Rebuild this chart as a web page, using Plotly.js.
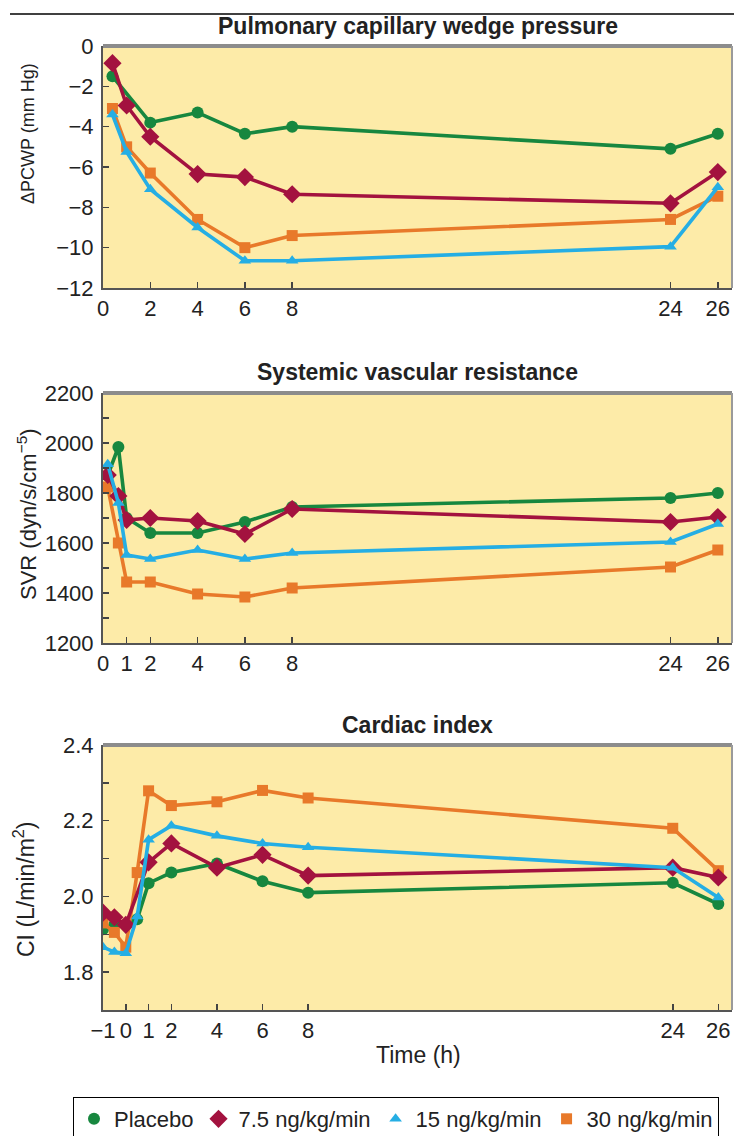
<!DOCTYPE html>
<html>
<head>
<meta charset="utf-8">
<script src="https://cdn.plot.ly/plotly-3.0.1.min.js"></script>
<style>html,body{margin:0;padding:0;background:#fff;}#chart{width:734px;height:1136px;}</style>
</head>
<body>
<div id="chart"></div>
<script>
// ---- Data ----
const seriesNames = ["Placebo", "7.5 ng/kg/min", "15 ng/kg/min", "30 ng/kg/min"];

// Pulmonary capillary wedge pressure (ΔPCWP, mm Hg)
const pcwpTime = [0.4, 1, 2, 4, 6, 8, 24, 26];
const pcwpPlacebo = [-1.5, null, -3.8, -3.3, -4.35, -4.0, -5.1, -4.35];
const pcwp7_5 = [-0.85, -2.95, -4.5, -6.35, -6.5, -7.35, -7.8, -6.25];
const pcwp15 = [-3.4, -5.25, -7.1, -9.0, -10.65, -10.65, -9.95, -7.0];
const pcwp30 = [-3.1, -5.0, -6.3, -8.6, -10.0, -9.4, -8.6, -7.45];

// Systemic vascular resistance (dyn/s/cm^-5)
const svrTime = [0.2, 0.65, 1, 2, 4, 6, 8, 24, 26];
const svrPlacebo = [1870, 1984, 1700, 1640, 1640, 1684, 1744, 1780, 1800];
const svr7_5 = [1872, 1788, 1692, 1700, 1688, 1636, 1736, 1684, 1704];
const svr15 = [1915, 1760, 1552, 1536, 1572, 1536, 1560, 1604, 1676];
const svr30 = [1824, 1600, 1444, 1444, 1396, 1384, 1420, 1504, 1572];

// Cardiac index (L/min/m^2)
const ciTime = [-1, -0.5, 0, 0.5, 1, 2, 4, 6, 8, 24, 26];
const ciPlacebo = [1.913, 1.925, 1.925, 1.94, 2.035, 2.063, 2.087, 2.04, 2.01, 2.036, 1.98];
const ci7_5 = [1.957, 1.945, 1.925, null, 2.09, 2.14, 2.076, 2.11, 2.055, 2.076, 2.05];
const ci15 = [1.866, 1.853, 1.85, 1.947, 2.15, 2.187, 2.16, 2.14, 2.13, 2.076, 1.997];
const ci30 = [1.93, 1.905, 1.866, 2.063, 2.279, 2.24, 2.25, 2.28, 2.26, 2.18, 2.068];

// Tick labels
const pcwpTicksX = [0, 2, 4, 6, 8, 24, 26];
const svrTicksX = [0, 1, 2, 4, 6, 8, 24, 26];
const ciTicksX = [-1, 0, 1, 2, 4, 6, 8, 24, 26];
const pcwpTicksY = [0, -2, -4, -6, -8, -10, -12];
const svrTicksY = [1200, 1400, 1600, 1800, 2000, 2200];
const ciTicksY = [1.8, 2.0, 2.2, 2.4];

// ---- Styles ----
const colors = ["#17873f", "#a3123f", "#25aee4", "#e8792a"];
const symbols = ["circle", "diamond", "triangle-up", "square"];
const sizes = [12, 14, 11, 11];
const drawOrder = [0, 3, 1, 2];
const FONT = "Liberation Sans, Arial, Helvetica, sans-serif";

const panels = [
  {t: pcwpTime, ys: [pcwpPlacebo, pcwp7_5, pcwp15, pcwp30], xa: "x", ya: "y"},
  {t: svrTime, ys: [svrPlacebo, svr7_5, svr15, svr30], xa: "x2", ya: "y2"},
  {t: ciTime, ys: [ciPlacebo, ci7_5, ci15, ci30], xa: "x3", ya: "y3"}
];

const traces = [];
panels.forEach(p => {
  drawOrder.forEach(i => {
    traces.push({
      x: p.t, y: p.ys[i], xaxis: p.xa, yaxis: p.ya,
      type: "scatter", mode: "lines+markers", connectgaps: true,
      name: seriesNames[i], showlegend: false,
      line: {color: colors[i], width: 3.6},
      marker: {color: colors[i], symbol: symbols[i], size: sizes[i]}
    });
  });
});
// legend entries (marker only)
[0, 1, 2, 3].forEach(i => {
  traces.push({
    x: [null], y: [null], xaxis: "x3", yaxis: "y3",
    type: "scatter", mode: "markers", name: seriesNames[i], showlegend: true,
    marker: {color: colors[i], symbol: symbols[i], size: sizes[i]}
  });
});

const L = 103, R = 2, T = 46, B = 126, W = 734, H = 1136;
const pw = W - L - R, ph = H - T - B;
const py = y => (H - B - y) / ph;   // pixel y -> paper
const px = x => (x - L) / pw;        // pixel x -> paper

function xAxis(ticks, range, anchor) {
  return {
    range: range, tickvals: ticks, ticktext: ticks.map(v => v < 0 ? "\u2212" + Math.abs(v) : String(v)), anchor: anchor,
    ticks: "inside", ticklen: 6, tickwidth: 1.5, tickcolor: "#444",
    showline: true, linecolor: "#555", linewidth: 2, showgrid: false, zeroline: false,
    tickfont: {family: FONT, size: 22, color: "#222"}, ticklabelstandoff: 0
  };
}
function yAxis(ticks, range, dom, anchor, fmt, minorDt) {
  const a = {
    range: range, tickvals: ticks, domain: dom, anchor: anchor,
    ticks: "inside", ticklen: 6, tickwidth: 1.5, tickcolor: "#444",
    showline: true, linecolor: "#555", linewidth: 2, showgrid: false, zeroline: false,
    tickfont: {family: FONT, size: 22, color: "#222"}, ticklabelstandoff: 3
  };
  if (fmt) a.tickformat = fmt;
  if (minorDt) a.minor = {dtick: minorDt, ticks: "inside", ticklen: 6, tickwidth: 1.5, tickcolor: "#444", showgrid: false};
  return a;
}

const d1 = [py(288), py(46)], d2 = [py(643), py(393)], d3 = [0, py(745)];

function ann(text, x, y, size, angle) {
  return {text: text, x: px(x), y: py(y), xref: "paper", yref: "paper", xanchor: "center", yanchor: "middle",
    showarrow: false, textangle: angle || 0, font: {family: FONT, size: size, color: "#222"}};
}

const layout = {
  width: W, height: H,
  margin: {l: L, r: R, t: T, b: B, autoexpand: false},
  paper_bgcolor: "#ffffff", plot_bgcolor: "#fdeba8",
  font: {family: FONT, color: "#222"},
  xaxis: xAxis(pcwpTicksX, [0, 26.6], "y"),
  yaxis: yAxis(pcwpTicksY, [-12, 0], d1, "x", null, null),
  xaxis2: xAxis(svrTicksX, [0, 26.6], "y2"),
  yaxis2: yAxis(svrTicksY, [1200, 2200], d2, "x2", null, 100),
  xaxis3: xAxis(ciTicksX, [-1, 26.6], "y3"),
  yaxis3: yAxis(ciTicksY, [1.7, 2.4], d3, "x3", ".1f", 0.1),
  showlegend: true,
  legend: {
    orientation: "h", x: px(73), y: py(1097), xanchor: "left", yanchor: "top",
    bordercolor: "#000", borderwidth: 1, bgcolor: "#fff",
    font: {family: FONT, size: 22, color: "#222"}, itemclick: false
  },
  shapes: [
    {type: "line", xref: "paper", yref: "paper", x0: px(10), x1: 1.01, y0: py(14), y1: py(14), line: {color: "#000", width: 1.5}}
  ],
  annotations: [
    ann("<b>Pulmonary capillary wedge pressure</b>", 418, 26, 23),
    ann("<b>Systemic vascular resistance</b>", 418, 372, 23),
    ann("<b>Cardiac index</b>", 418, 725, 23),
    ann("ΔPCWP (mm Hg)", 28, 134, 18, -90),
    ann("SVR (dyn/s/cm<sup>−5</sup>)", 27, 514, 22, -90),
    ann("CI (L/min/m<sup>2</sup>)", 24, 890, 23, -90),
    ann("Time (h)", 419, 1055, 23)
  ]
};
// gray top and right plot borders
["", "2", "3"].forEach(s => {
  layout.shapes.push({type: "line", xref: "x" + s + " domain", yref: "y" + s + " domain", x0: 0, x1: 1, y0: 1, y1: 1, line: {color: "#8c8c8c", width: 4}});
  layout.shapes.push({type: "line", xref: "x" + s + " domain", yref: "y" + s + " domain", x0: 1, x1: 1, y0: 0, y1: 1, line: {color: "#9a9a9a", width: 2}});
});

Plotly.newPlot("chart", traces, layout, {staticPlot: true, displayModeBar: false});
</script>
</body>
</html>
